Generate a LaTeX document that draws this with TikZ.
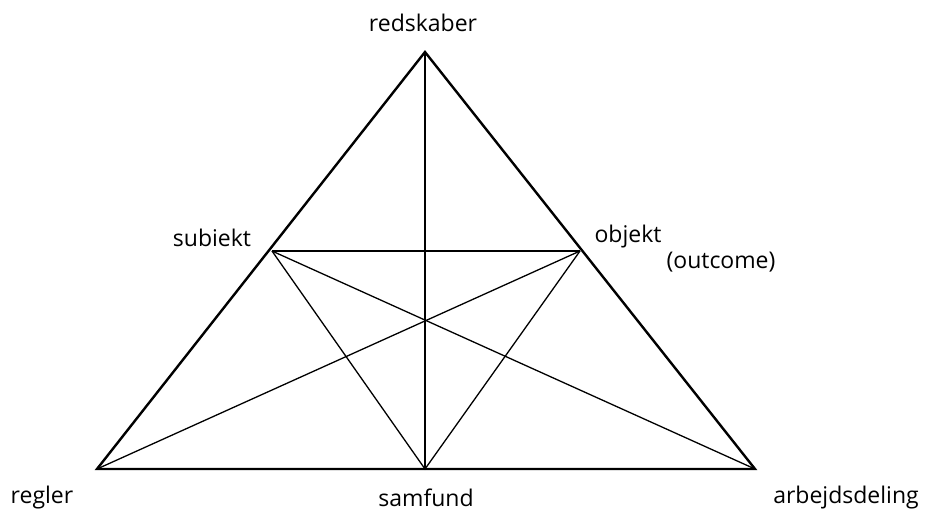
\documentclass[tikz,border=0pt]{standalone}
\usepackage{fontspec}
\setmainfont{Open Sans}
\begin{document}
\begin{tikzpicture}[x=1pt,y=-1pt,
  thickline/.style={line width=2.4pt,line join=miter},
  thinline/.style={line width=1.3pt},
  lbl/.style={font=\fontsize{23}{26}\selectfont,inner sep=0pt}]
\useasboundingbox (0,0) rectangle (929,514);
\coordinate (A) at (425,52);
\coordinate (L) at (97,469);
\coordinate (R) at (755,469);
\coordinate (S) at (272,251);
\coordinate (O) at (580,251);
\coordinate (M) at (425,469);
\draw[thinline] (S) -- (O);
\draw[thinline] (A) -- (M);
\draw[thinline] (S) -- (M) -- (O);
\draw[thinline] (S) -- (R);
\draw[thinline] (O) -- (L);
\draw[thickline] (A) -- (L) -- (R) -- cycle;
\node[lbl] (tA) at (423,23) {redskaber};
\node[lbl] (tS) at (212,238) {subiekt};
\node[lbl] (tO) at (628,237) {objekt};
\node[lbl] (tOc) at (721,262) {(outcome)};
\node[lbl] (tL) at (42,498) {regler};
\node[lbl] (tM) at (426,498) {samfund};
\node[lbl] (tR) at (846,498) {arbejdsdeling};
\end{tikzpicture}
\end{document}
